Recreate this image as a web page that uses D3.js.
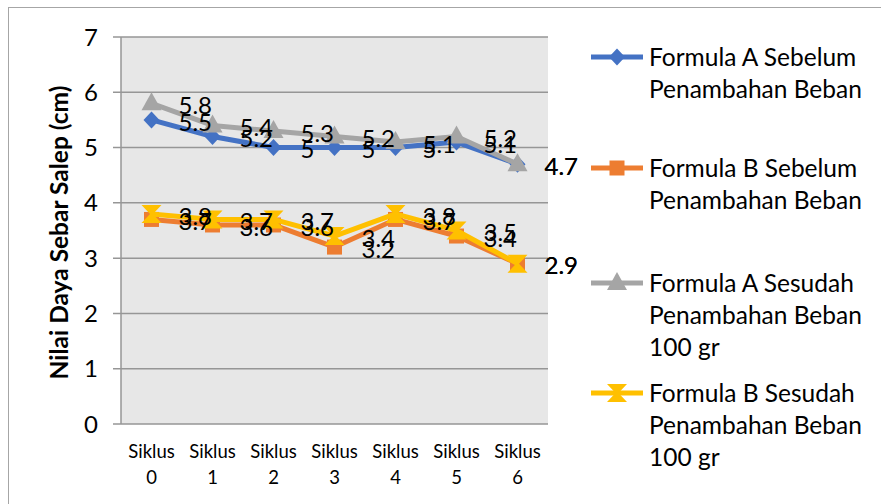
<!DOCTYPE html>
<html>
<head>
<meta charset="utf-8">
<script src="https://cdn.jsdelivr.net/npm/d3@7"></script>
<style>
	body { margin: 0; background: #fff; }
	text { font-family: Lato, "Open Sans", sans-serif; fill: #000; }
</style>
</head>
<body>
<div id="visContainer"></div>
<script>
'use strict';

// categories and series
var categories = ['Siklus 0', 'Siklus 1', 'Siklus 2', 'Siklus 3', 'Siklus 4', 'Siklus 5', 'Siklus 6'];
var formulaASebelum = [5.5, 5.2, 5, 5, 5, 5.1, 4.7];
var formulaBSebelum = [3.7, 3.6, 3.6, 3.2, 3.7, 3.4, 2.9];
var formulaASesudah = [5.8, 5.4, 5.3, 5.2, 5.1, 5.2, 4.7];
var formulaBSesudah = [3.8, 3.7, 3.7, 3.4, 3.8, 3.5, 2.9];
var seriesNames = [
	['Formula A Sebelum', 'Penambahan Beban'],
	['Formula B Sebelum', 'Penambahan Beban'],
	['Formula A Sesudah', 'Penambahan Beban', '100 gr'],
	['Formula B Sesudah', 'Penambahan Beban', '100 gr']
];
var yTicks = [0, 1, 2, 3, 4, 5, 6, 7];

var series = [
	{ name: seriesNames[0], values: formulaASebelum, color: '#4472C4', marker: 'diamond' },
	{ name: seriesNames[1], values: formulaBSebelum, color: '#ED7D31', marker: 'square' },
	{ name: seriesNames[2], values: formulaASesudah, color: '#A5A5A5', marker: 'triangle' },
	{ name: seriesNames[3], values: formulaBSesudah, color: '#FFC000', marker: 'hourglass' }
];

var svg = d3.select('#visContainer')
	.append('svg')
	.attr('width', 881)
	.attr('height', 504);

// chart border
svg.append('rect')
	.attr('x', 8.5).attr('y', 7.5)
	.attr('width', 880).attr('height', 510)
	.attr('fill', '#fff')
	.attr('stroke', '#a6a6a6');

var PLOT = { left: 121, right: 548, top: 37, bottom: 424 };

var xScale = d3.scaleBand()
	.domain(categories)
	.range([PLOT.left, PLOT.right]);

var yScale = d3.scaleLinear()
	.domain([0, 7])
	.range([PLOT.bottom, PLOT.top]);

function cx(i) { return xScale(categories[i]) + xScale.bandwidth() / 2; }

svg.append('rect')
	.attr('x', PLOT.left).attr('y', PLOT.top)
	.attr('width', PLOT.right - PLOT.left)
	.attr('height', PLOT.bottom - PLOT.top)
	.attr('fill', '#e7e7e7');

// gridlines + tick marks
svg.append('g')
	.selectAll('line')
	.data(yTicks)
	.enter().append('line')
	.attr('x1', PLOT.left - 8).attr('x2', PLOT.right)
	.attr('y1', function (d) { return yScale(d); })
	.attr('y2', function (d) { return yScale(d); })
	.attr('stroke', '#969696')
	.attr('stroke-width', 1.5);

svg.append('line')
	.attr('x1', PLOT.left).attr('x2', PLOT.left)
	.attr('y1', PLOT.top).attr('y2', PLOT.bottom)
	.attr('stroke', '#969696')
	.attr('stroke-width', 1.5);

// y tick labels
svg.append('g')
	.selectAll('text')
	.data(yTicks)
	.enter().append('text')
	.attr('x', 98)
	.attr('y', function (d) { return yScale(d); })
	.attr('dy', '0.36em')
	.attr('text-anchor', 'end')
	.style('font-size', '24px')
	.text(function (d) { return d; });

// x labels, two lines each
var xLabels = svg.append('g')
	.selectAll('text')
	.data(categories)
	.enter().append('text')
	.attr('text-anchor', 'middle')
	.style('font-size', '18.5px');
xLabels.append('tspan')
	.attr('x', function (d, i) { return cx(i); })
	.attr('y', 458)
	.text(function (d) { return d.split(' ')[0]; });
xLabels.append('tspan')
	.attr('x', function (d, i) { return cx(i); })
	.attr('y', 484)
	.text(function (d) { return d.split(' ')[1]; });

// y axis title
svg.append('text')
	.text('Nilai Daya Sebar Salep (cm)')
	.attr('transform', 'translate(68,' + ((PLOT.top + PLOT.bottom) / 2 + 2) + ') rotate(-90)')
	.attr('text-anchor', 'middle')
	.style('font-size', '24.5px')
	.style('font-weight', 'bold');

function markerPath(type) {
	if (type === 'diamond') return 'M0,-8.5L8,0L0,8.5L-8,0Z';
	if (type === 'square') return 'M-7.5,-7.5H7.5V7.5H-7.5Z';
	if (type === 'triangle') return 'M0,-11L10,7H-10Z';
	return 'M-10,-9H10L1.5,0L10,9H-10L-1.5,0Z';
}

var line = d3.line()
	.x(function (d, i) { return cx(i); })
	.y(function (d) { return yScale(d); });

series.forEach(function (s) {
	var g = svg.append('g');
	g.append('path')
		.attr('d', line(s.values))
		.attr('fill', 'none')
		.attr('stroke', s.color)
		.attr('stroke-width', 5)
		.attr('stroke-linejoin', 'round');
	g.selectAll('.marker')
		.data(s.values)
		.enter().append('path')
		.attr('class', 'marker')
		.attr('transform', function (d, i) {
			return 'translate(' + cx(i) + ',' + yScale(d) + ')';
		})
		.attr('d', markerPath(s.marker))
		.attr('fill', s.color);
});

// data labels on top of everything
series.forEach(function (s) {
	svg.append('g')
		.selectAll('text')
		.data(s.values)
		.enter().append('text')
		.attr('x', function (d, i) { return cx(i) + 27; })
		.attr('y', function (d) { return yScale(d) + 2; })
		.attr('dy', '0.36em')
		.style('font-size', '24px')
		.text(function (d) { return d; });
});

// legend
var legendY = [57, 168, 283, 393];
var legend = svg.append('g')
	.selectAll('.legend')
	.data(series)
	.enter().append('g')
	.attr('class', 'legend')
	.attr('transform', function (d, i) { return 'translate(0,' + legendY[i] + ')'; });

legend.append('line')
	.attr('x1', 591).attr('x2', 643)
	.attr('stroke', function (d) { return d.color; })
	.attr('stroke-width', 5);
legend.append('path')
	.attr('transform', 'translate(617,0)')
	.attr('d', function (d) { return markerPath(d.marker); })
	.attr('fill', function (d) { return d.color; });

var legendText = legend.append('text')
	.style('font-size', '24.5px');
legendText.selectAll('tspan')
	.data(function (d) { return d.name; })
	.enter().append('tspan')
	.attr('x', 649)
	.attr('y', function (d, i) { return i * 32; })
	.attr('dy', '0.36em')
	.text(function (d) { return d; });
</script>
</body>
</html>
